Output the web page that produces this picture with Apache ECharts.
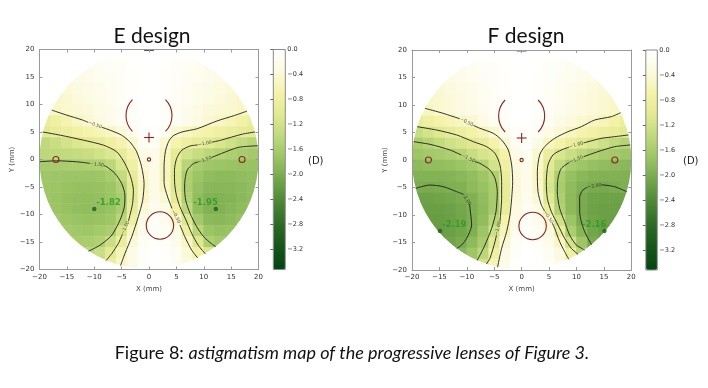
<!DOCTYPE html>
<html><head><meta charset="utf-8">
<script src="https://cdn.jsdelivr.net/npm/echarts@6/dist/echarts.min.js"></script>
<style>html,body{margin:0;padding:0;background:#fff;}#c{width:708px;height:388px;}</style>
</head><body><div id="c"></div>
<script>
// ---------- data ----------
const gridX = [-19,-17,-15,-13,-11,-9,-7,-5,-3,-1,1,3,5,7,9,11,13,15,17,19];
const gridY = [19,17,15,13,11,9,7,5,3,1,-1,-3,-5,-7,-9,-11,-13,-15,-17,-19];
const cellSize = 2;
const lensRadius = 20;

const eAstig = [
[-0.2,-0.2,-0.2,-0.15,-0.12,-0.1,-0.05,-0.03,-0.01,0,0,-0.01,-0.03,-0.05,-0.1,-0.12,-0.15,-0.2,-0.2,-0.2],
[-0.3,-0.3,-0.3,-0.25,-0.2,-0.15,-0.1,-0.06,-0.03,-0.01,-0.01,-0.03,-0.06,-0.1,-0.15,-0.2,-0.25,-0.3,-0.3,-0.3],
[-0.4,-0.4,-0.33,-0.27,-0.22,-0.17,-0.12,-0.08,-0.04,-0.02,-0.02,-0.04,-0.08,-0.12,-0.17,-0.22,-0.27,-0.33,-0.4,-0.4],
[-0.5,-0.45,-0.4,-0.34,-0.28,-0.22,-0.16,-0.1,-0.05,-0.02,-0.02,-0.05,-0.1,-0.16,-0.22,-0.28,-0.34,-0.4,-0.45,-0.5],
[-0.55,-0.48,-0.43,-0.37,-0.3,-0.23,-0.16,-0.1,-0.05,-0.02,-0.02,-0.05,-0.1,-0.16,-0.23,-0.3,-0.37,-0.43,-0.48,-0.55],
[-0.6,-0.5,-0.45,-0.42,-0.38,-0.3,-0.2,-0.12,-0.06,-0.02,-0.02,-0.06,-0.12,-0.2,-0.3,-0.38,-0.42,-0.45,-0.5,-0.6],
[-0.9,-0.78,-0.65,-0.54,-0.44,-0.33,-0.22,-0.13,-0.06,-0.02,-0.02,-0.06,-0.13,-0.22,-0.32,-0.43,-0.52,-0.62,-0.75,-0.88],
[-1.02,-0.92,-0.83,-0.75,-0.67,-0.6,-0.53,-0.4,-0.2,-0.06,-0.04,-0.15,-0.42,-0.54,-0.63,-0.7,-0.78,-0.85,-0.93,-1.01],
[-1.38,-1.28,-1.18,-1.1,-1.03,-0.93,-0.8,-0.65,-0.45,-0.15,-0.1,-0.45,-0.68,-0.82,-0.92,-1.02,-1.12,-1.23,-1.35,-1.45],
[-1.4,-1.38,-1.35,-1.32,-1.28,-1.2,-1.1,-0.93,-0.65,-0.3,-0.2,-0.52,-0.97,-1.18,-1.3,-1.4,-1.49,-1.55,-1.6,-1.65],
[-1.62,-1.6,-1.58,-1.56,-1.54,-1.52,-1.4,-1.12,-0.78,-0.4,-0.25,-0.55,-1.02,-1.45,-1.6,-1.68,-1.72,-1.74,-1.75,-1.75],
[-1.68,-1.7,-1.71,-1.72,-1.72,-1.7,-1.6,-1.35,-0.93,-0.48,-0.28,-0.58,-1.08,-1.55,-1.72,-1.82,-1.85,-1.85,-1.82,-1.8],
[-1.7,-1.72,-1.75,-1.77,-1.78,-1.76,-1.7,-1.53,-1.03,-0.52,-0.28,-0.52,-1.05,-1.56,-1.78,-1.88,-1.9,-1.9,-1.86,-1.82],
[-1.7,-1.73,-1.77,-1.8,-1.81,-1.79,-1.72,-1.58,-1.03,-0.5,-0.25,-0.43,-0.97,-1.52,-1.82,-1.93,-1.94,-1.92,-1.87,-1.82],
[-1.68,-1.72,-1.76,-1.8,-1.82,-1.81,-1.75,-1.58,-0.95,-0.4,-0.18,-0.3,-0.75,-1.4,-1.82,-1.94,-1.94,-1.9,-1.84,-1.78],
[-1.6,-1.65,-1.7,-1.74,-1.76,-1.74,-1.68,-1.44,-0.78,-0.3,-0.1,-0.18,-0.47,-1.08,-1.65,-1.86,-1.88,-1.84,-1.78,-1.7],
[-1.55,-1.6,-1.64,-1.67,-1.68,-1.64,-1.56,-1.13,-0.55,-0.2,-0.06,-0.1,-0.3,-0.8,-1.42,-1.72,-1.78,-1.75,-1.7,-1.65],
[-1.5,-1.55,-1.58,-1.6,-1.58,-1.53,-1.27,-0.88,-0.38,-0.12,-0.03,-0.06,-0.2,-0.53,-1.08,-1.55,-1.65,-1.65,-1.6,-1.55],
[-1.5,-1.5,-1.5,-1.5,-1.45,-1.28,-1.02,-0.6,-0.28,-0.08,-0.02,-0.04,-0.15,-0.4,-0.75,-1.1,-1.5,-1.6,-1.6,-1.6],
[-1.5,-1.5,-1.5,-1.5,-1.4,-1.2,-0.85,-0.5,-0.25,-0.06,-0.01,-0.03,-0.12,-0.35,-0.7,-1.1,-1.5,-1.6,-1.6,-1.6]
];

const fAstig = [
[-0.2,-0.2,-0.2,-0.15,-0.12,-0.1,-0.05,-0.03,-0.01,0,0,-0.01,-0.03,-0.05,-0.1,-0.12,-0.15,-0.2,-0.2,-0.2],
[-0.3,-0.3,-0.3,-0.25,-0.2,-0.15,-0.1,-0.06,-0.03,-0.01,-0.01,-0.03,-0.06,-0.1,-0.15,-0.2,-0.25,-0.3,-0.3,-0.3],
[-0.4,-0.4,-0.33,-0.27,-0.22,-0.17,-0.12,-0.08,-0.04,-0.02,-0.02,-0.04,-0.08,-0.12,-0.17,-0.22,-0.27,-0.33,-0.4,-0.4],
[-0.52,-0.46,-0.41,-0.35,-0.29,-0.23,-0.17,-0.1,-0.05,-0.02,-0.02,-0.05,-0.1,-0.17,-0.23,-0.29,-0.35,-0.41,-0.46,-0.52],
[-0.58,-0.5,-0.44,-0.38,-0.31,-0.24,-0.17,-0.1,-0.05,-0.02,-0.02,-0.05,-0.1,-0.17,-0.24,-0.31,-0.38,-0.44,-0.5,-0.58],
[-0.65,-0.55,-0.46,-0.4,-0.33,-0.26,-0.18,-0.1,-0.05,-0.02,-0.02,-0.05,-0.1,-0.18,-0.26,-0.33,-0.4,-0.45,-0.5,-0.6],
[-0.92,-0.8,-0.7,-0.6,-0.53,-0.44,-0.3,-0.17,-0.08,-0.02,-0.02,-0.07,-0.15,-0.26,-0.37,-0.45,-0.51,-0.6,-0.72,-0.85],
[-1.3,-1.18,-1.06,-0.95,-0.84,-0.72,-0.6,-0.43,-0.2,-0.05,-0.04,-0.13,-0.27,-0.42,-0.55,-0.65,-0.74,-0.83,-0.91,-1.0],
[-1.58,-1.47,-1.35,-1.23,-1.13,-1.05,-0.92,-0.7,-0.44,-0.12,-0.08,-0.3,-0.52,-0.7,-0.86,-1.0,-1.12,-1.25,-1.38,-1.48],
[-1.7,-1.65,-1.6,-1.55,-1.47,-1.3,-1.15,-1.05,-0.7,-0.25,-0.15,-0.45,-0.9,-1.12,-1.27,-1.42,-1.53,-1.6,-1.65,-1.7],
[-1.85,-1.82,-1.8,-1.77,-1.72,-1.63,-1.5,-1.18,-0.78,-0.35,-0.2,-0.5,-1.03,-1.35,-1.6,-1.7,-1.77,-1.82,-1.85,-1.88],
[-1.93,-1.93,-1.93,-1.92,-1.88,-1.8,-1.7,-1.53,-0.9,-0.38,-0.2,-0.52,-1.1,-1.55,-1.78,-1.88,-1.93,-1.95,-1.95,-1.95],
[-2.0,-2.02,-2.01,-1.98,-1.95,-1.85,-1.75,-1.58,-0.95,-0.38,-0.2,-0.5,-1.15,-1.6,-1.83,-1.95,-2.03,-2.05,-2.01,-1.98],
[-2.12,-2.12,-2.1,-2.07,-2.02,-1.95,-1.82,-1.6,-0.95,-0.38,-0.18,-0.42,-1.05,-1.55,-1.85,-2.02,-2.1,-2.12,-2.12,-2.1],
[-2.15,-2.16,-2.16,-2.13,-2.07,-1.98,-1.85,-1.6,-0.9,-0.32,-0.14,-0.3,-0.85,-1.52,-1.85,-2.03,-2.12,-2.15,-2.15,-2.14],
[-2.17,-2.18,-2.18,-2.15,-2.08,-1.99,-1.82,-1.45,-0.7,-0.25,-0.1,-0.2,-0.45,-1.2,-1.72,-2.0,-2.1,-2.15,-2.16,-2.15],
[-2.15,-2.18,-2.19,-2.15,-2.08,-1.97,-1.7,-1.25,-0.58,-0.18,-0.06,-0.12,-0.35,-0.85,-1.57,-1.9,-2.08,-2.16,-2.15,-2.12],
[-2.1,-2.12,-2.13,-2.1,-2.02,-1.85,-1.6,-1.0,-0.42,-0.1,-0.03,-0.07,-0.22,-0.52,-1.2,-1.7,-2.02,-2.1,-2.1,-2.05],
[-2.0,-2.0,-2.0,-2.0,-1.9,-1.7,-1.42,-0.8,-0.3,-0.06,-0.01,-0.04,-0.12,-0.35,-0.8,-1.45,-1.9,-2.0,-2.0,-2.0],
[-2.0,-2.0,-2.0,-2.0,-1.85,-1.6,-1.2,-0.6,-0.2,-0.03,0,-0.02,-0.08,-0.25,-0.65,-1.2,-1.8,-2.0,-2.0,-2.0]
];

// contour lines (null = gap where the level label sits)
const eL050 = [[-17.75,8.97],[-15,8.06],[-12.2,7.2],[-11.1,6.75],null,[-8.6,5.85],[-7.1,5.33],[-5,4.42],[-3.5,3.2],[-2.25,1.4],[-1.35,-1.33],[-0.9,-4.36],[-1.15,-7.4],[-1.95,-10.4],[-3.15,-14.06],[-4.4,-17.1],[-5.2,-19.3]];
const eL100 = [[-19.4,5.0],[-16.2,4.42],[-12,3.52],[-8.3,2.6],[-5.9,1.4],[-4.4,-0.73],[-3.35,-3.15],[-2.85,-5.58],[-3.0,-8.0],[-3.5,-10.2],[-3.75,-11.2],null,[-4.85,-13.6],[-5.6,-15.27],[-6.8,-17.1],[-7.85,-18.4]];
const eL150 = [[-19.99,-0.4],[-16.85,-0.24],[-13.2,-0.42],[-10.8,-0.7],null,[-8.2,-1.1],[-7.7,-1.33],[-6.2,-2.55],[-5.0,-4.36],[-4.4,-6.48],[-4.5,-8.6],[-5.3,-11.03],[-6.8,-13.76],[-8.95,-15.58],[-11.05,-16.67]];
const eR050 = [[17.9,8.8],[15.6,8.0],[12.4,7.0],[8.8,5.6],[6.0,5.0],[4.4,4.3],[3.6,3.3],[3.0,1.5],[2.75,-1.2],[2.75,-4.2],[3.4,-6.8],[4.2,-8.9],null,[5.65,-11.9],[6.55,-14.06],[7.8,-16.48],[8.9,-17.9]];
const eR100 = [[19.35,5.0],[17,4.6],[13.1,3.5],[11.5,3.15],null,[8.9,2.65],[7.5,2.45],[6.0,1.7],[5.05,0.2],[4.65,-2.0],[4.7,-4.5],[5.0,-6.5],[5.65,-8.6],[6.75,-11.0],[7.8,-13.45],[9.0,-15.6],[10.3,-17.15]];
const eR150 = [[19.85,2.5],[16.3,2.2],[13.25,1.1],[11.4,0.35],null,[9.0,-0.45],[8.1,-0.75],[7.0,-1.9],[6.6,-3.5],[6.5,-5.2],[6.7,-7.4],[7.5,-9.8],[8.7,-12.2],[10.0,-14.06],[11.4,-15.3],[12.2,-15.85]];

const fL050 = [[-17.65,9.4],[-14.3,8.48],[-11.3,7.5],null,[-8.8,6.3],[-7.6,5.76],[-5.17,4.85],[-3.65,3.64],[-2.43,1.82],[-1.82,-0.91],[-1.64,-3.94],[-1.82,-6.97],[-2.13,-10],[-2.74,-13.03],[-3.65,-16.06],[-4.4,-19.5]];
const fL100 = [[-19.06,6.06],[-15.5,5.45],[-11.85,4.55],[-8.81,3.33],[-6.38,2.42],[-4.86,1.21],[-3.95,-0.91],[-3.65,-3.94],[-3.65,-6.97],[-3.85,-10.0],[-3.95,-11.2],null,[-4.6,-13.7],[-4.86,-14.85],[-5.78,-17.88],[-6.45,-18.93]];
const fL150 = [[-19.72,3.33],[-16.72,2.85],[-13.07,1.82],[-11.0,0.9],null,[-8.5,-0.3],[-7.6,-0.61],[-5.78,-1.82],[-4.86,-3.33],[-4.44,-5.76],[-4.68,-9.39],[-5.47,-12.42],[-6.69,-15.45],[-8.1,-18.27]];
const fL200 = [[-19.33,-5.15],[-16.72,-4.55],[-14.29,-4.85],[-11.85,-5.76],[-10.7,-6.2],null,[-9.5,-8.0],[-9.42,-8.79],[-9.12,-11.82],[-10.03,-14.24],[-10.94,-15.45],[-11.85,-16.11]];
const fR050 = [[18.05,8.6],[16.35,7.88],[13.31,7.27],[10.88,6.06],[8.45,5.15],[6.02,3.94],[4.19,2.42],[3.28,0.91],[2.86,-2.12],[2.98,-5.76],[3.59,-8.18],[4.2,-9.3],null,[5.6,-11.5],[6.02,-12.42],[6.93,-14.85],[7.84,-16.67],[8.6,-18.06]];
const fR100 = [[19.48,4.55],[16.96,4.24],[14.53,3.94],[11.3,3.1],null,[8.7,2.35],[7.23,1.82],[5.71,0.91],[4.8,-0.91],[4.5,-3.94],[4.68,-6.97],[5.41,-9.39],[6.63,-11.82],[7.84,-14.24],[9.06,-16.06],[10.3,-17.15]];
const fR150 = [[19.81,2.73],[16.96,2.42],[13.92,1.52],[11.3,0.6],null,[8.7,-0.45],[7.23,-1.52],[6.63,-3.33],[6.5,-5.76],[6.93,-8.79],[7.84,-11.21],[8.75,-13.64],[9.97,-15.45],[11.49,-16.36]];
const fR200 = [[19.15,-5.76],[16.96,-4.85],[14.6,-4.5],null,[12.0,-4.95],[11.19,-5.45],[10.58,-6.67],[10.58,-9.39],[10.88,-11.21],[11.49,-13.03],[12.1,-14.24],[12.75,-15.4]];

const eLevels = [[eL050,-0.5],[eL100,-1.0],[eL150,-1.5],[eR050,-0.5],[eR100,-1.0],[eR150,-1.5]];
const fLevels = [[fL050,-0.5],[fL100,-1.0],[fL150,-1.5],[fL200,-2.0],[fR050,-0.5],[fR100,-1.0],[fR150,-1.5],[fR200,-2.0]];

// lens reference marks [cx, cy, r, startDeg, endDeg]
const lensArcs = [[0,8,4.2,136,224],[0,8,4.2,-44,44]];
const lensCircles = [[-17,0,0.55],[17,0,0.55],[0,0,0.3],[2,-12,2.5]];
const fitCross = [[0,4,0.9]];
const topMark = [[-0.9,19.85],[0.9,19.85]];

const eMinima = [[-10,-9,'-1.82'],[12.2,-9,'-1.95']];
const fMinima = [[-14.9,-12.9,'-2.19'],[15.1,-12.9,'-2.16']];

const cbTicks = [0,-0.4,-0.8,-1.2,-1.6,-2.0,-2.4,-2.8,-3.2];
const cbMin = -3.52, cbMax = 0;
const cbColors = ['#044412','#155519','#2c6925','#4a8535','#6fa348','#98c262','#bcd87a','#e0e992','#f5f2a8','#fcfade','#ffffff'];

// ---------- build ----------
const minus = s => String(s).replace('-', '\u2212');
const FONT = 'DejaVu Sans';
const panels = [
  {astig:eAstig, levels:eLevels, minima:eMinima, title:'E design', titleX:152, dX:308,
   grid:{left:39.5, top:49.5, width:219, height:220}, cb:{left:273.3, top:49.5, width:12, height:220}},
  {astig:fAstig, levels:fLevels, minima:fMinima, title:'F design', titleX:526, dX:683,
   grid:{left:412, top:50, width:219.3, height:220}, cb:{left:645.8, top:50, width:11.5, height:220}}
];

const grids = [], xAxes = [], yAxes = [], series = [], visualMaps = [], graphics = [];
const axisCol = '#9a9a9a';

panels.forEach((p, i) => {
  grids.push(Object.assign({containLabel:false}, p.grid));
  grids.push(Object.assign({show:true, borderColor:'#8a8a8a', borderWidth:1, backgroundColor:'transparent', z:6}, p.cb));
  const gm = 2*i, gc = 2*i+1;
  const mk = (pos, lab, isX) => ({
    type:'value', gridIndex:gm, min:-20, max:20, interval:5, position:pos, z:10,
    axisLine:{show:true, onZero:false, lineStyle:{color:axisCol, width:1}},
    axisTick:{show:true, inside:true, length:3, lineStyle:{color:axisCol}},
    axisLabel:{show:lab, fontSize:7, color:'#333', margin: isX ? 4 : 5, fontFamily:FONT, formatter:v => minus(v)},
    splitLine:{show:false},
    name: lab ? (isX ? 'X (mm)' : 'Y (mm)') : '', nameLocation:'middle', nameGap: isX ? 14 : 22,
    nameTextStyle:{fontSize:7, color:'#444', fontFamily:FONT}
  });
  xAxes.push(mk('bottom', true, true), mk('top', false, true),
    {type:'value', gridIndex:gc, min:0, max:1, show:false});
  yAxes.push(mk('left', true, false), mk('right', false, false),
    {type:'value', gridIndex:gc, min:cbMin, max:cbMax, position:'right', z:7,
     axisLine:{show:false}, splitLine:{show:false},
     axisTick:{show:true, inside:true, length:3, customValues:cbTicks, lineStyle:{color:'#666'}},
     axisLabel:{show:true, customValues:cbTicks, fontSize:6.5, color:'#333', margin:2, fontFamily:FONT,
       formatter:v => minus(Number(v).toFixed(1))}});
});

// heatmaps first (series 0,1)
panels.forEach((p, i) => {
  const cells = [];
  gridY.forEach((y, r) => gridX.forEach((x, c) => {
    if (Math.hypot(x, y) <= lensRadius + cellSize*0.72) cells.push([x, y, p.astig[r][c]]);
  }));
  series.push({
    type:'custom', xAxisIndex:3*i, yAxisIndex:3*i, data:cells, z:1, silent:true, animation:false,
    dimensions:['x','y','v'], encode:{x:0, y:1},
    renderItem:(params, api) => {
      const x = api.value(0), y = api.value(1), h = cellSize/2;
      const a = api.coord([x-h, y+h]), b = api.coord([x+h, y-h]);
      const c0 = api.coord([0,0]), rx = api.coord([lensRadius,0])[0] - c0[0];
      return {type:'rect', shape:{x:a[0]-0.3, y:a[1]-0.3, width:b[0]-a[0]+0.6, height:b[1]-a[1]+0.6},
        style:{fill:api.visual('color')},
        clipPath:{type:'circle', shape:{cx:c0[0], cy:c0[1], r:rx}}};
    }
  });
  visualMaps.push({type:'continuous', seriesIndex:i, dimension:2, min:cbMin, max:cbMax,
    calculable:false, realtime:false, hoverLink:false, padding:0, z:1,
    left:p.cb.left, top:p.cb.top, itemWidth:p.cb.width, itemHeight:p.cb.height,
    inRange:{color:cbColors}, textStyle:{fontSize:0}});
});

panels.forEach((p, i) => {
  const xi = 3*i, yi = 3*i;
  const labels = [];
  p.levels.forEach(([pts, lev]) => {
    let seg = [];
    pts.forEach((pt, k) => {
      if (pt === null) {
        series.push({type:'line', xAxisIndex:xi, yAxisIndex:yi, data:seg, symbol:'none', smooth:0.25,
          lineStyle:{color:'#1c1c1c', width:0.9}, z:3, silent:true, animation:false});
        seg = [];
        const a = pts[k-1], b = pts[k+1];
        let ang = Math.atan2(b[1]-a[1], b[0]-a[0]) * 180 / Math.PI;
        if (ang > 90) ang -= 180; if (ang < -90) ang += 180;
        labels.push({value:[(a[0]+b[0])/2, (a[1]+b[1])/2], name:minus(lev.toFixed(2)), label:{rotate:ang}});
      } else seg.push(pt);
    });
    series.push({type:'line', xAxisIndex:xi, yAxisIndex:yi, data:seg, symbol:'none', smooth:0.25,
      lineStyle:{color:'#1c1c1c', width:0.9}, z:3, silent:true, animation:false});
  });
  series.push({type:'scatter', xAxisIndex:xi, yAxisIndex:yi, data:labels, symbolSize:0, z:4, silent:true, animation:false,
    label:{show:true, position:'inside', formatter:'{b}', fontSize:4.6, color:'#222', fontFamily:FONT}});
  series.push({type:'line', xAxisIndex:xi, yAxisIndex:yi, data:topMark, symbol:'none',
    lineStyle:{color:'#555', width:1.4}, z:3, silent:true, animation:false});
  series.push({type:'custom', xAxisIndex:xi, yAxisIndex:yi, data:lensArcs, z:5, silent:true, animation:false,
    renderItem:(params, api) => {
      const c = api.coord([api.value(0), api.value(1)]), r = api.size([api.value(2), 0])[0];
      return {type:'arc', shape:{cx:c[0], cy:c[1], r:r, startAngle:-api.value(4)*Math.PI/180, endAngle:-api.value(3)*Math.PI/180, clockwise:true},
        style:{stroke:'#8b2525', lineWidth:1.1, fill:null}};
    }});
  series.push({type:'custom', xAxisIndex:xi, yAxisIndex:yi, data:lensCircles, z:5, silent:true, animation:false,
    renderItem:(params, api) => {
      const c = api.coord([api.value(0), api.value(1)]), r = api.size([api.value(2), 0])[0];
      return {type:'circle', shape:{cx:c[0], cy:c[1], r:r}, style:{stroke:'#8b2525', lineWidth:1.1, fill:null}};
    }});
  series.push({type:'custom', xAxisIndex:xi, yAxisIndex:yi, data:fitCross, z:5, silent:true, animation:false,
    renderItem:(params, api) => {
      const x = api.value(0), y = api.value(1), h = api.value(2);
      const l = api.coord([x-h, y]), r = api.coord([x+h, y]), t = api.coord([x, y+h]), b = api.coord([x, y-h]);
      return {type:'group', children:[
        {type:'line', shape:{x1:l[0], y1:l[1], x2:r[0], y2:r[1]}, style:{stroke:'#8b2525', lineWidth:1.1}},
        {type:'line', shape:{x1:t[0], y1:t[1], x2:b[0], y2:b[1]}, style:{stroke:'#8b2525', lineWidth:1.1}}]};
    }});
  series.push({type:'scatter', xAxisIndex:xi, yAxisIndex:yi, z:6, silent:true, animation:false,
    symbolSize:4.5, itemStyle:{color:'#17601c'},
    data:p.minima.map((m, k) => ({value:[m[0], m[1]], name:m[2],
      label:{align: k === 0 ? 'left' : 'right', offset:[2, 1]}})),
    label:{show:true, position:'top', distance:0, formatter:'{b}', fontSize:8.5, fontWeight:'bold', color:'#239a23', fontFamily:FONT}});

  graphics.push({type:'text', x:p.titleX, y:36.5, z:20,
    style:{text:p.title, font:'21px Lato', fill:'#111', textAlign:'center', textVerticalAlign:'middle', align:'center', verticalAlign:'middle'}});
  graphics.push({type:'text', x:p.dX, y:161, z:20,
    style:{text:'(D)', font:'10px "DejaVu Sans"', fill:'#222', textAlign:'left', textVerticalAlign:'middle', align:'left', verticalAlign:'middle'}});
});

graphics.push({type:'text', x:352, y:353, z:20,
  style:{text:'{a|Figure 8: }{b|astigmatism map of the progressive lenses of Figure 3.}',
    rich:{a:{fontSize:18, fontFamily:'Lato', fill:'#111', color:'#111'},
          b:{fontSize:18, fontFamily:'Lato', fontStyle:'italic', fill:'#111', color:'#111'}},
    textAlign:'center', textVerticalAlign:'middle', align:'center', verticalAlign:'middle'}});

const chart = echarts.init(document.getElementById('c'), null, {renderer:'canvas'});
chart.setOption({
  animation:false, backgroundColor:'#fff',
  grid:grids, xAxis:xAxes, yAxis:yAxes, visualMap:visualMaps, series:series, graphic:graphics
});
</script></body></html>
